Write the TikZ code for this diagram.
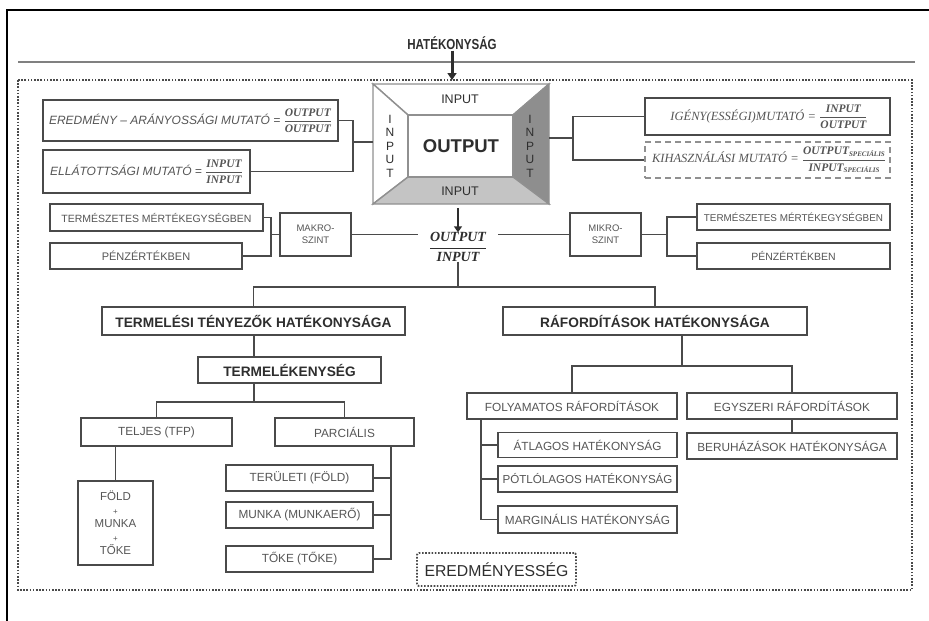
\documentclass[tikz,border=0pt]{standalone}
\usepackage{fontspec}
\usepackage{amsmath}
\usepackage{graphicx}
\setmainfont{Liberation Sans}
\newfontfamily\srf{Liberation Serif}
\usetikzlibrary{arrows.meta,calc}
\definecolor{bd}{HTML}{4A4A4A}
\definecolor{tx}{HTML}{555555}
\definecolor{tk}{HTML}{2E2E2E}
\definecolor{fr}{HTML}{909090}
\definecolor{gA}{HTML}{C4C4C4}
\definecolor{gB}{HTML}{8E8E8E}
\newcommand\fsz[1]{\fontsize{#1}{#1}\selectfont}
\newcommand\myfrac[2]{$\genfrac{}{}{0.8pt}{0}{\hbox{\srf\bfseries\itshape #1}}{\hbox{\srf\bfseries\itshape #2}}$}
\newcommand\spc{\raisebox{-1.5pt}{\fsz{7}SPECIÁLIS}}
\tikzset{
  box/.style={draw=bd, line width=1.4pt, fill=white, inner sep=0pt, text=tx, font=\fsz{11.5}, align=center},
  bbox/.style={box, text=tk, font=\bfseries\fsz{13.7}},
  ln/.style={draw=bd, line width=1.4pt},
  frm/.style={draw=fr, line width=1.4pt},
  arr/.style={-{Triangle[length=7pt,width=9pt]}, line width=3pt, draw=tk},
  dotbox/.style={draw=bd, line width=1.8pt, dash pattern=on 1.6pt off 1.6pt},
}
\begin{document}
\begin{tikzpicture}[x=1pt,y=-1pt]
\useasboundingbox (0,0) rectangle (929,621);
% outer frame
\draw[black, line width=1.2pt] (7,621) -- (7,10) -- (929,10);
\node[font=\bfseries\fsz{14.5}, text=tk, inner sep=1pt] (hat) at (452,43) {\scalebox{0.8}[1]{HATÉKONYSÁG}};
\draw[draw=gray, line width=2pt] (18,62) -- (915,62);
\draw[dotbox] (18,80) rectangle (912,590);
\coordinate (dtop) at (452,80);
\draw[arr] (hat.south) -- (dtop);

% central frame
\coordinate (o1) at (373,84); \coordinate (o2) at (549,84);
\coordinate (o3) at (549,204); \coordinate (o4) at (373,204);
\coordinate (i1) at (408,115); \coordinate (i2) at (513,115);
\coordinate (i3) at (513,177); \coordinate (i4) at (408,177);
\draw[frm, fill=white] (o1)--(o2)--(i2)--(i1)--cycle;
\draw[frm, fill=white] (o1)--(i1)--(i4)--(o4)--cycle;
\draw[frm, fill=gB] (o2)--(o3)--(i3)--(i2)--cycle;
\draw[frm, fill=gA] (o4)--(o3)--(i3)--(i4)--cycle;
\draw[frm, fill=white] (i1) rectangle (i3);
\node[inner sep=0pt, minimum width=176pt, minimum height=120pt] (frame) at (461,144) {};
\node[font=\bfseries\fsz{18.5}, text=tk] (out) at (461,146) {OUTPUT};
\node[font=\fsz{12.5}, text=tk] (inT) at (460,99) {INPUT};
\node[font=\fsz{12.5}, text=tk] (inB) at (460,191) {INPUT};
\node[font=\fontsize{12}{13.5}\selectfont, text=tk, align=center] (inL) at (390,146) {I\\N\\P\\U\\T};
\node[font=\fontsize{12}{13.5}\selectfont, text=tk, align=center] (inR) at (530,146) {I\\N\\P\\U\\T};

% left indicator boxes
\node[box, font=\fsz{12}, minimum width=295pt, minimum height=41pt] (ered) at (190.5,120.5)
  {{\itshape EREDMÉNY – ARÁNYOSSÁGI MUTATÓ =} \fsz{11.5}\myfrac{OUTPUT}{OUTPUT}};
\node[box, font=\fsz{12}, minimum width=207pt, minimum height=43pt] (ellat) at (146.5,171.5)
  {{\itshape ELLÁTOTTSÁGI MUTATÓ =} \fsz{11.5}\myfrac{INPUT}{INPUT}};
\coordinate (lb) at (353,142);
\draw[ln] (ered.east) -- (ered.east -| lb) -- (ellat.east -| lb) -- (ellat.east);
\draw[ln] (lb) -- (lb -| frame.west);

% right indicator boxes
\node[box, minimum width=245pt, minimum height=37pt] (igeny) at (767.5,116.5)
  {{\srf\itshape\fsz{12.5} IGÉNY(ESSÉGI)MUTATÓ =} \fsz{11.5}\myfrac{INPUT}{OUTPUT}};
\node[box, draw=fr, dash pattern=on 6pt off 4pt, line width=1.3pt, minimum width=245pt, minimum height=36pt] (kih) at (767.5,160)
  {{\srf\itshape\fsz{12.5} KIHASZNÁLÁSI MUTATÓ =} \fsz{11.5}\myfrac{OUTPUT\spc}{INPUT\spc}};
\coordinate (rb) at (573,138);
\draw[ln] (frame.east |- rb) -- (rb);
\draw[ln] (igeny.west) -- (igeny.west -| rb) -- (kih.west -| rb) -- (kih.west);

% fraction
\node[inner sep=0pt, minimum width=80pt, text=tk, font=\fsz{14}] (frac) at (458,247) {\myfrac{OUTPUT}{INPUT}};
\draw[arr, line width=2.6pt, -{Triangle[length=6pt,width=8pt]}] (frac.north |- frame.south) ++(0,4) -- (frac.north);

% makro side
\node[box, font=\fsz{10.5}, minimum width=213pt, minimum height=27pt] (termL) at (156.5,217.5) {TERMÉSZETES MÉRTÉKEGYSÉGBEN};
\node[box, font=\fsz{11}, minimum width=192pt, minimum height=26pt] (penzL) at (146,256) {PÉNZÉRTÉKBEN};
\node[box, font=\fontsize{9.5}{12}\selectfont, minimum width=71pt, minimum height=43pt] (makro) at (315.5,234.5) {MAKRO-\\SZINT};
\coordinate (mb) at (271,234.5);
\draw[ln] (termL.east) -- (termL.east -| mb) -- (penzL.east -| mb) -- (penzL.east);
\draw[ln] (mb) -- (makro.west);
\draw[ln] (makro.east) -- (makro.east -| frac.west);

% mikro side
\node[box, font=\fsz{9.9}, minimum width=193pt, minimum height=26pt] (termR) at (793.5,217) {TERMÉSZETES MÉRTÉKEGYSÉGBEN};
\node[box, font=\fsz{10.5}, minimum width=193pt, minimum height=26pt] (penzR) at (793.5,256) {PÉNZÉRTÉKBEN};
\node[box, font=\fontsize{9.5}{12}\selectfont, minimum width=71pt, minimum height=43pt] (mikro) at (605.5,234.5) {MIKRO-\\SZINT};
\coordinate (kb) at (667,234.5);
\draw[ln] (frac.east |- mikro.west) -- (mikro.west);
\draw[ln] (mikro.east) -- (kb);
\draw[ln] (termR.west) -- (termR.west -| kb) -- (penzR.west -| kb) -- (penzR.west);

% main tree
\node[bbox, minimum width=303pt, minimum height=28pt] (tt) at (253.5,321) {TERMELÉSI TÉNYEZŐK HATÉKONYSÁGA};
\node[bbox, minimum width=304pt, minimum height=28pt] (raf) at (655,321) {RÁFORDÍTÁSOK HATÉKONYSÁGA};
\coordinate (h1) at (458,287);
\draw[ln] (frac.south) -- (h1);
\draw[ln] (tt.north) |- (h1) -| (raf.north);

\node[bbox, minimum width=183pt, minimum height=26pt] (tk) at (289.5,370) {TERMELÉKENYSÉG};
\coordinate (h2) at (254,402);
\draw[ln] (h2 |- tt.south) -- (h2 |- tk.north);
\draw[ln] (h2 |- tk.south) -- (h2);
\node[box, font=\fsz{11.8}, minimum width=151pt, minimum height=28pt] (telj) at (156.5,432) {TELJES (TFP)};
\node[box, font=\fsz{11.8}, minimum width=139pt, minimum height=28pt] (parc) at (344.5,432) {PARCIÁLIS};
\draw[ln] (telj.north) |- (h2) -| (parc.north);

\node[box, font=\fontsize{11.5}{13.5}\selectfont, minimum width=75pt, minimum height=84pt] (fold) at (115.5,523)
  {FÖLD\\{\fsz{8}+}\\MUNKA\\{\fsz{8}+}\\TŐKE};
\draw[ln] (fold.north |- telj.south) -- (fold.north);

\node[box, font=\fsz{11.8}, minimum width=147pt, minimum height=26pt] (ter) at (299.5,478) {TERÜLETI (FÖLD)};
\node[box, font=\fsz{11.8}, minimum width=147pt, minimum height=26pt] (mun) at (299.5,515) {MUNKA (MUNKAERŐ)};
\node[box, font=\fsz{11.8}, minimum width=147pt, minimum height=26pt] (tok) at (299.5,559) {TŐKE (TŐKE)};
\coordinate (pv) at (391,446);
\draw[ln] (pv) |- (tok.east);
\draw[ln] (ter.east) -- (ter.east -| pv);
\draw[ln] (mun.east) -- (mun.east -| pv);

% raford branch
\coordinate (h3) at (682,366);
\draw[ln] (h3 |- raf.south) -- (h3);
\node[box, font=\fsz{11.8}, minimum width=210pt, minimum height=26pt] (foly) at (572,406) {FOLYAMATOS RÁFORDÍTÁSOK};
\node[box, font=\fsz{11.8}, minimum width=210pt, minimum height=26pt] (egy) at (792,406) {EGYSZERI RÁFORDÍTÁSOK};
\draw[ln] (foly.north) |- (h3) -| (egy.north);
\node[box, font=\fsz{11.8}, minimum width=210pt, minimum height=26pt] (ber) at (792,446) {BERUHÁZÁSOK HATÉKONYSÁGA};
\draw[ln] (egy.south) -- (ber.north);

\node[box, font=\fsz{11.8}, minimum width=179pt, minimum height=25pt] (atl) at (587.5,445) {ÁTLAGOS HATÉKONYSÁG};
\node[box, font=\fsz{11.6}, minimum width=179pt, minimum height=26pt] (pot) at (587.5,479) {PÓTLÓLAGOS HATÉKONYSÁG};
\node[box, font=\fsz{11.8}, minimum width=179pt, minimum height=27pt] (mar) at (587.5,519.5) {MARGINÁLIS HATÉKONYSÁG};
\coordinate (fv) at (481,419);
\draw[ln] (fv) |- (mar.west);
\draw[ln] (atl.west) -- (atl.west -| fv);
\draw[ln] (pot.west) -- (pot.west -| fv);

% eredmenyesseg
\node[dotbox, rounded corners=2pt, text=tk, font=\fsz{15.8}, inner sep=0pt, minimum width=159pt, minimum height=33pt] (eredm) at (496.5,569.5) {EREDMÉNYESSÉG};
\end{tikzpicture}
\end{document}
